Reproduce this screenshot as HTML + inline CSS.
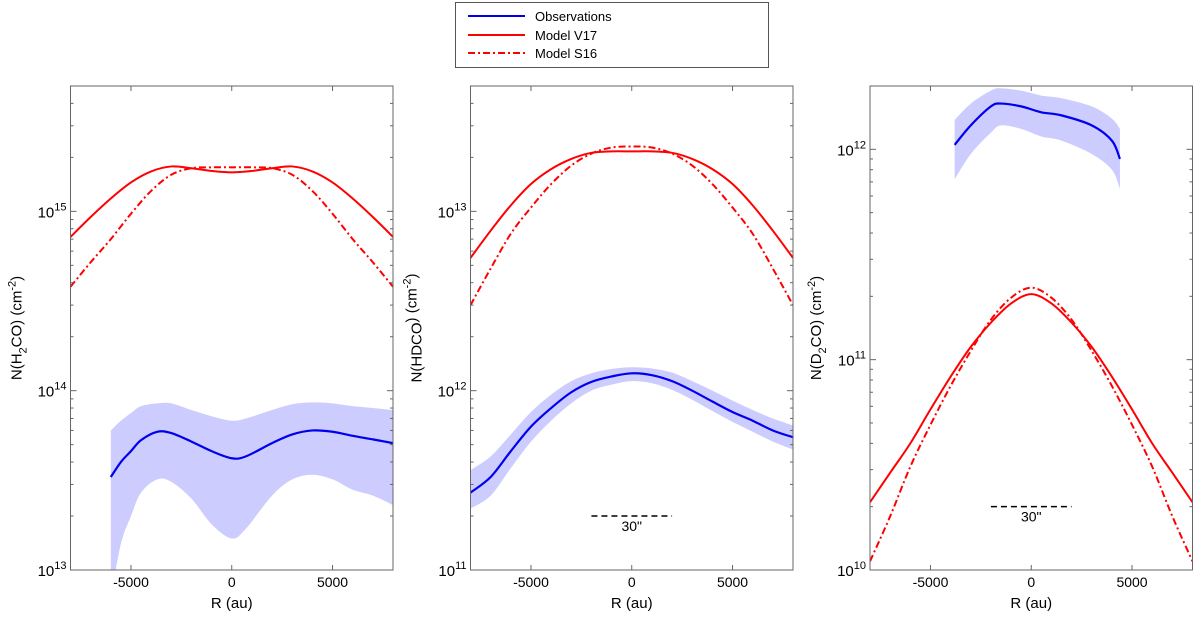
<!DOCTYPE html>
<html><head><meta charset="utf-8"><style>
body{margin:0;background:#fff;}
svg{display:block;font-family:"Liberation Sans",sans-serif;}
</style></head><body>
<svg id="fig" width="1200" height="618" viewBox="0 0 1200 618">
  <g>
    <rect x="455.5" y="2.5" width="313" height="65" fill="#fff" stroke="#555" stroke-width="1"/>
    <g><line x1="468" y1="16" x2="525" y2="16" stroke="#0000ee" stroke-width="2"/><text x="535" y="21" font-size="13">Observations</text></g>
    <g><line x1="468" y1="35" x2="525" y2="35" stroke="#ff0000" stroke-width="2"/><text x="535" y="40" font-size="13">Model V17</text></g>
    <g><line x1="468" y1="53" x2="525" y2="53" stroke="#ff0000" stroke-width="2" stroke-dasharray="7,3,2,3"/><text x="535" y="58" font-size="13">Model S16</text></g>
  </g>
</svg>
<script>
// ---- data ----
const xTicks = [-5000, 0, 5000];
// Panel 1: H2CO
const p1ModelX = [-8000,-7000,-6000,-5000,-4000,-3000,-2000,-1000,0,1000,2000,3000,4000,5000,6000,7000,8000];
const p1V17 = [7.2e14,9.3e14,1.18e15,1.45e15,1.67e15,1.78e15,1.74e15,1.68e15,1.65e15,1.68e15,1.74e15,1.78e15,1.67e15,1.45e15,1.18e15,9.3e14,7.2e14];
const p1S16 = [3.8e14,5.2e14,7.0e14,9.7e14,1.3e15,1.6e15,1.74e15,1.76e15,1.76e15,1.76e15,1.74e15,1.6e15,1.3e15,9.7e14,7.0e14,5.2e14,3.8e14];
const p1ObsX = [-6000,-5500,-5000,-4500,-3700,-3000,-2000,-1000,0,700,2000,3000,4000,5000,6000,7000,8000];
const p1Obs = [3.3e13,4.0e13,4.6e13,5.3e13,5.9e13,5.8e13,5.2e13,4.6e13,4.2e13,4.3e13,5.1e13,5.7e13,6.0e13,5.9e13,5.6e13,5.35e13,5.1e13];
const p1Up = [6.0e13,6.8e13,7.5e13,8.2e13,8.5e13,8.5e13,7.8e13,7.2e13,6.8e13,7.0e13,7.8e13,8.4e13,8.6e13,8.5e13,8.2e13,8.0e13,7.8e13];
const p1Lo = [0.7e13,1.4e13,2.0e13,2.7e13,3.2e13,3.1e13,2.5e13,1.8e13,1.5e13,1.7e13,2.6e13,3.2e13,3.4e13,3.2e13,2.8e13,2.6e13,2.3e13];
// Panel 2: HDCO
const p2ModelX = [-8000,-7000,-6000,-5000,-4000,-3000,-2000,-1000,0,1000,2000,3000,4000,5000,6000,7000,8000];
const p2V17 = [5.5e12,7.8e12,1.08e13,1.42e13,1.72e13,1.96e13,2.12e13,2.16e13,2.16e13,2.16e13,2.12e13,1.96e13,1.72e13,1.42e13,1.08e13,7.8e12,5.5e12];
const p2S16 = [3.0e12,4.8e12,7.5e12,1.05e13,1.42e13,1.8e13,2.1e13,2.27e13,2.3e13,2.27e13,2.1e13,1.8e13,1.42e13,1.05e13,7.5e12,4.8e12,3.0e12];
const p2ObsX = [-8000,-7000,-6000,-5000,-4000,-3000,-2000,-1000,0,1000,2000,3000,4000,5000,6000,7000,8000];
const p2Obs = [2.7e11,3.3e11,4.6e11,6.3e11,8.0e11,9.8e11,1.12e12,1.2e12,1.25e12,1.22e12,1.13e12,1.0e12,8.7e11,7.6e11,6.8e11,6.0e11,5.5e11];
const p2Up = [3.6e11,4.3e11,5.7e11,7.6e11,9.5e11,1.13e12,1.25e12,1.32e12,1.35e12,1.33e12,1.26e12,1.13e12,1.0e12,8.8e11,7.8e11,7.0e11,6.4e11];
const p2Lo = [2.2e11,2.6e11,3.7e11,5.2e11,6.8e11,8.5e11,1.0e12,1.08e12,1.13e12,1.1e12,1.01e12,8.9e11,7.7e11,6.7e11,5.9e11,5.2e11,4.7e11];
// Panel 3: D2CO
const p3ModelX = [-8000,-7000,-6000,-5000,-4000,-3000,-2000,-1000,0,1000,2000,3000,4000,5000,6000,7000,8000];
const p3V17 = [2.1e10,2.9e10,4.0e10,5.8e10,8.3e10,1.15e11,1.5e11,1.85e11,2.05e11,1.85e11,1.5e11,1.15e11,8.3e10,5.8e10,4.0e10,2.9e10,2.1e10];
const p3S16 = [1.1e10,1.8e10,3.1e10,4.9e10,7.5e10,1.1e11,1.55e11,1.97e11,2.2e11,1.97e11,1.55e11,1.1e11,7.5e10,4.9e10,3.1e10,1.8e10,1.1e10];
const p3ObsX = [-3800,-3000,-2000,-1500,-500,500,1500,3000,4000,4400];
const p3Obs = [1.05e12,1.3e12,1.6e12,1.65e12,1.6e12,1.5e12,1.45e12,1.3e12,1.1e12,9.0e11];
const p3Up = [1.38e12,1.65e12,1.9e12,1.95e12,1.9e12,1.8e12,1.75e12,1.6e12,1.4e12,1.25e12];
const p3Lo = [7.2e11,9.5e11,1.2e12,1.3e12,1.25e12,1.15e12,1.1e12,9.5e11,8.0e11,6.5e11];
const scaleBarX = [-2000, 2000];
const p2ScaleBarY = 2e11, p3ScaleBarY = 2e10;

const NS = "http://www.w3.org/2000/svg";
const svg = document.getElementById('fig');
function mk(tag, attrs, parent){const e=document.createElementNS(NS,tag);for(const k in attrs)e.setAttribute(k,attrs[k]);(parent||svg).appendChild(e);return e;}
function smooth(pts){
  let d=`M${pts[0][0]},${pts[0][1]}`;
  for(let i=0;i<pts.length-1;i++){
    const p0=pts[Math.max(0,i-1)],p1=pts[i],p2=pts[i+1],p3=pts[Math.min(pts.length-1,i+2)];
    const c1=[p1[0]+(p2[0]-p0[0])/6,p1[1]+(p2[1]-p0[1])/6],c2=[p2[0]-(p3[0]-p1[0])/6,p2[1]-(p3[1]-p1[1])/6];
    d+=`C${c1[0]},${c1[1]} ${c2[0]},${c2[1]} ${p2[0]},${p2[1]}`;
  }
  return d;
}
function panel(cfg){
  const L=cfg.left,R=cfg.left+322.5,T=86,B=570;
  const sx=v=>L+(v+8000)/16000*(R-L);
  const sy=v=>B-(Math.log10(v)-cfg.ymin)/(cfg.ymax-cfg.ymin)*(B-T);
  const g=mk('g',{});
  
  
  const cp='clip-'+cfg.name;
  const cl=mk('clipPath',{id:cp},g);mk('rect',{x:L,y:T,width:R-L,height:B-T},cl);
  const plot=mk('g',{'clip-path':`url(#${cp})`},g);
  const up=cfg.ox.map((x,i)=>[sx(x),sy(cfg.up[i])]);
  const lo=cfg.ox.map((x,i)=>[sx(x),sy(cfg.lo[i])]).reverse();
  let d=smooth(up)+smooth(lo).replace('M','L')+'Z';
  const band=mk('path',{d:d,fill:'#ccccff',stroke:'none'},plot);
  
  
  const v=mk('path',{d:smooth(cfg.mx.map((x,i)=>[sx(x),sy(cfg.v17[i])])),fill:'none',stroke:'#ff0000','stroke-width':2},plot);
  
  
  const s=mk('path',{d:smooth(cfg.mx.map((x,i)=>[sx(x),sy(cfg.s16[i])])),fill:'none',stroke:'#ff0000','stroke-width':2,'stroke-dasharray':'7,3,2,3'},plot);
  
  
  const o=mk('path',{d:smooth(cfg.ox.map((x,i)=>[sx(x),sy(cfg.obs[i])])),fill:'none',stroke:'#0000ee','stroke-width':2.2},plot);
  
  
  if(cfg.bar){
    const y=sy(cfg.bar);
    const b=mk('line',{x1:sx(scaleBarX[0]),x2:sx(scaleBarX[1]),y1:y,y2:y,stroke:'#000','stroke-width':1.5,'stroke-dasharray':'6,4'},g);
    
    
    const t=mk('text',{x:sx(0),y:y+15,'font-size':14,'text-anchor':'middle'},g);t.textContent='30"';
    
    
  }
  mk('rect',{x:L,y:T,width:R-L,height:B-T,fill:'none',stroke:'#666','stroke-width':1},g);
  for(let e=Math.floor(cfg.ymin);e<=Math.ceil(cfg.ymax);e++){
    for(let m=1;m<10;m++){
      const val=m*Math.pow(10,e);const lv=Math.log10(val);
      if(lv<cfg.ymin-1e-9||lv>cfg.ymax+1e-9)continue;
      const y=sy(val),len=m===1?6:3;
      mk('line',{x1:L,x2:L+len,y1:y,y2:y,stroke:'#666'},g);
      mk('line',{x1:R,x2:R-len,y1:y,y2:y,stroke:'#666'},g);
      if(m===1){
        const t=mk('text',{x:L-4,y:y+6,'font-size':15,'text-anchor':'end'},g);
        
        
        t.innerHTML=`10<tspan dy="-7" font-size="11">${e}</tspan>`;
      }
    }
  }
  xTicks.forEach(xv=>{
    const x=sx(xv);
    mk('line',{x1:x,x2:x,y1:B,y2:B-5,stroke:'#666'},g);
    mk('line',{x1:x,x2:x,y1:T,y2:T+5,stroke:'#666'},g);
    const t=mk('text',{x:x,y:B+17,'font-size':14,'text-anchor':'middle'},g);t.textContent=String(xv);
    
    
  });
  const xl=mk('text',{x:(L+R)/2,y:B+38,'font-size':15,'text-anchor':'middle'},g);xl.textContent='R (au)';
  
  
  const yl=mk('text',{x:0,y:0,'font-size':15,'text-anchor':'middle',transform:`translate(${L-49},${(T+B)/2}) rotate(-90)`},g);
  yl.innerHTML=`N(${cfg.mol[0]}<tspan dy="5" font-size="11">${cfg.mol[1]}</tspan><tspan dy="-5">${cfg.mol[2]}) (cm</tspan><tspan dy="-6" font-size="11">-2</tspan><tspan dy="6">)</tspan>`;
  
  
}
panel({name:'panel-h2co',left:70.5,ymin:13,ymax:Math.log10(5e15),mx:p1ModelX,v17:p1V17,s16:p1S16,ox:p1ObsX,obs:p1Obs,up:p1Up,lo:p1Lo,mol:['H','2','CO']});
panel({name:'panel-hdco',left:470.5,ymin:11,ymax:Math.log10(5e13),mx:p2ModelX,v17:p2V17,s16:p2S16,ox:p2ObsX,obs:p2Obs,up:p2Up,lo:p2Lo,bar:p2ScaleBarY,mol:['HDCO','','']});
panel({name:'panel-d2co',left:870,ymin:10,ymax:Math.log10(2e12),mx:p3ModelX,v17:p3V17,s16:p3S16,ox:p3ObsX,obs:p3Obs,up:p3Up,lo:p3Lo,bar:p3ScaleBarY,mol:['D','2','CO']});
</script>
</body></html>
